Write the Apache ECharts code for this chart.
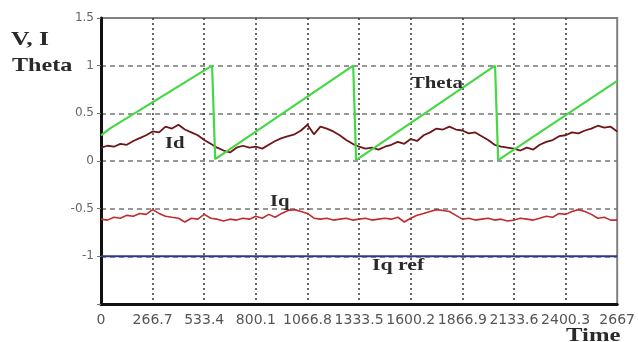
<!DOCTYPE html>
<html>
<head>
<meta charset="utf-8">
<style>
  html, body { margin: 0; padding: 0; background: #fff; }
  #chart { width: 638px; height: 342px; }
</style>
<script src="https://cdn.jsdelivr.net/npm/echarts@6/dist/echarts.min.js"></script>
</head>
<body>
<div id="chart"></div>
<script>
// Sampled time base for the current traces
const sampleTime = [
  0, 33.3, 66.7, 100.0, 133.4, 166.7, 200.0, 233.4, 266.7, 300.0,
  333.4, 366.7, 400.1, 433.4, 466.7, 500.1, 533.4, 566.7, 600.1, 633.4,
  666.8, 700.1, 733.4, 766.8, 800.1, 833.4, 866.8, 900.1, 933.4, 966.8,
  1000.1, 1033.5, 1066.8, 1100.1, 1133.5, 1166.8, 1200.2, 1233.5, 1266.8, 1300.2,
  1333.5, 1366.8, 1400.2, 1433.5, 1466.8, 1500.2, 1533.5, 1566.9, 1600.2, 1633.5,
  1666.9, 1700.2, 1733.6, 1766.9, 1800.2, 1833.6, 1866.9, 1900.2, 1933.6, 1966.9,
  2000.3, 2033.6, 2066.9, 2100.3, 2133.6, 2166.9, 2200.3, 2233.6, 2266.9, 2300.3,
  2333.6, 2366.9, 2400.3, 2433.6, 2467.0, 2500.3, 2533.6, 2567.0, 2600.3, 2633.6,
  2667.0
];

// d-axis current
const idValues = [
  0.14, 0.16, 0.15, 0.18, 0.17, 0.21, 0.24, 0.27, 0.31, 0.30,
  0.36, 0.34, 0.38, 0.33, 0.30, 0.27, 0.22, 0.18, 0.14, 0.11,
  0.09, 0.14, 0.16, 0.14, 0.15, 0.13, 0.17, 0.21, 0.24, 0.26,
  0.28, 0.32, 0.38, 0.28, 0.36, 0.34, 0.31, 0.27, 0.22, 0.18,
  0.15, 0.13, 0.14, 0.12, 0.15, 0.17, 0.20, 0.18, 0.23, 0.21,
  0.27, 0.30, 0.34, 0.33, 0.36, 0.33, 0.32, 0.29, 0.30, 0.26,
  0.22, 0.17, 0.15, 0.14, 0.13, 0.11, 0.14, 0.12, 0.17, 0.20,
  0.22, 0.26, 0.27, 0.30, 0.29, 0.32, 0.34, 0.37, 0.35, 0.36,
  0.31
];

// q-axis current
const iqValues = [
  -0.61, -0.62, -0.59, -0.60, -0.57, -0.58, -0.55, -0.56, -0.51, -0.55,
  -0.58, -0.59, -0.60, -0.64, -0.60, -0.61, -0.56, -0.60, -0.61, -0.63,
  -0.61, -0.62, -0.60, -0.61, -0.58, -0.60, -0.56, -0.59, -0.55, -0.52,
  -0.51, -0.53, -0.55, -0.60, -0.61, -0.60, -0.62, -0.61, -0.60, -0.62,
  -0.61, -0.60, -0.62, -0.61, -0.60, -0.61, -0.59, -0.64, -0.60, -0.57,
  -0.55, -0.53, -0.51, -0.52, -0.53, -0.57, -0.61, -0.60, -0.62, -0.61,
  -0.60, -0.62, -0.61, -0.63, -0.62, -0.60, -0.61, -0.62, -0.60, -0.58,
  -0.59, -0.55, -0.56, -0.53, -0.51, -0.53, -0.56, -0.60, -0.59, -0.62,
  -0.62
];

// rotor angle (normalised sawtooth) corner points
const thetaTime = [0, 45, 574, 590, 1303, 1318, 2036, 2052, 2667];
const thetaValues = [0.27, 0.34, 1.0, 0.02, 1.0, 0.01, 1.0, 0.01, 0.84];

// q-axis current reference
const iqRefTime = [0, 2667];
const iqRefValues = [-1, -1];

// axis tick labels
const xTickLabels = ['0', '266.7', '533.4', '800.1', '1066.8', '1333.5', '1600.2', '1866.9', '2133.6', '2400.3', '2667'];
const yTickLabels = ['', '-1', '-0.5', '0', '0.5', '1', '1.5'];

const pairs = (xs, ys) => xs.map((x, i) => [x, ys[i]]);

const chart = echarts.init(document.getElementById('chart'), null, { renderer: 'canvas' });

const serif = '"Liberation Serif", "DejaVu Serif", serif';
const label = (text, x, y, size, sx) => ({
  type: 'text',
  x: x, y: y,
  scaleX: sx || 1.22,
  style: {
    text: text,
    fill: '#2a2a2a',
    font: 'bold ' + size + 'px ' + serif,
    textAlign: 'left',
    textVerticalAlign: 'middle'
  },
  z: 100
});

chart.setOption({
  backgroundColor: '#fff',
  animation: false,
  grid: {
    left: 101, right: 17, top: 18, bottom: 38,
    show: true,
    borderColor: '#808080',
    borderWidth: 2,
    backgroundColor: 'transparent'
  },
  xAxis: {
    type: 'value',
    min: 0, max: 2667, interval: 266.7,
    axisLine: { show: true, onZero: false, lineStyle: { color: '#111', width: 3 } },
    axisTick: { show: false },
    axisLabel: {
      color: '#555',
      fontFamily: '"DejaVu Sans", sans-serif',
      fontSize: 14,
      margin: 9,
      formatter: (v, i) => xTickLabels[i]
    },
    splitLine: {
      show: true,
      showMinLine: false,
      showMaxLine: false,
      lineStyle: { color: '#333', width: 1.5, type: [2, 3] }
    }
  },
  yAxis: {
    type: 'value',
    min: -1.5, max: 1.5, interval: 0.5,
    axisLine: { show: true, onZero: false, lineStyle: { color: '#111', width: 3 } },
    axisTick: { show: true, length: 4, lineStyle: { color: '#777', width: 1 } },
    axisLabel: {
      color: '#666',
      fontFamily: '"DejaVu Sans", sans-serif',
      fontSize: 12,
      margin: 7,
      formatter: (v, i) => yTickLabels[i]
    },
    splitLine: {
      show: true,
      showMinLine: false,
      showMaxLine: false,
      lineStyle: { color: '#777', width: 1.5, type: [5, 4] }
    }
  },
  series: [
    {
      name: 'Iq ref', type: 'line', data: pairs(iqRefTime, iqRefValues),
      symbol: 'none', lineStyle: { color: '#2c3a8e', width: 2 }, z: 3
    },
    {
      name: 'Iq', type: 'line', data: pairs(sampleTime, iqValues),
      symbol: 'none', lineStyle: { color: '#c42a30', width: 1.6 }, z: 4
    },
    {
      name: 'Id', type: 'line', data: pairs(sampleTime, idValues),
      symbol: 'none', lineStyle: { color: '#6e1518', width: 1.8 }, z: 5
    },
    {
      name: 'Theta', type: 'line', data: pairs(thetaTime, thetaValues),
      symbol: 'none', lineStyle: { color: '#45d845', width: 2.2 }, z: 6
    }
  ],
  graphic: [
    label('V, I', 11, 40, 19, 1.35),
    label('Theta', 12, 66, 19, 1.27),
    label('Theta', 411, 84, 17),
    label('Id', 165, 144, 17),
    label('Iq', 270, 202, 17),
    label('Iq ref', 372, 266, 17, 1.28),
    label('Time', 566, 336, 19, 1.3)
  ]
});
</script>
</body>
</html>
